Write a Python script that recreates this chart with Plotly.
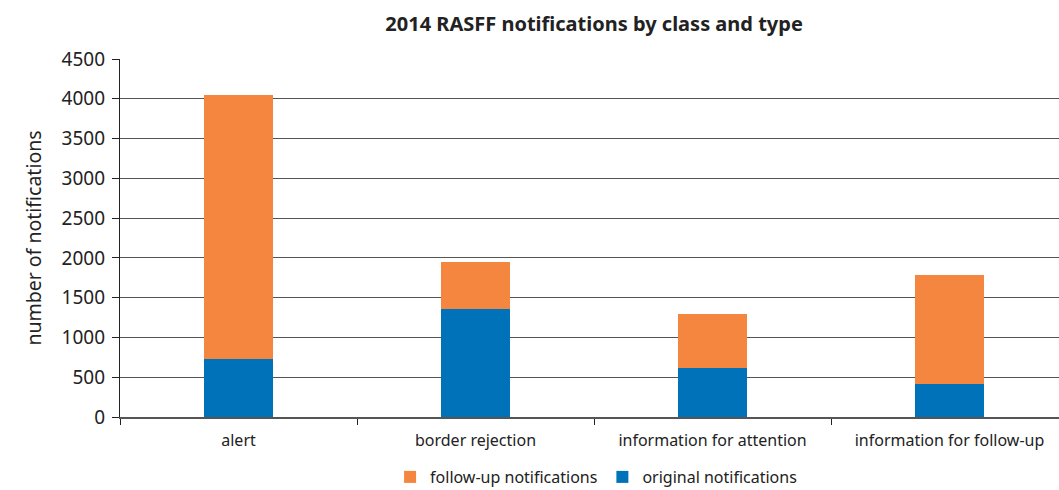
import plotly.graph_objects as go

categories = ["alert", "border rejection", "information for attention", "information for follow-up"]
original = [733, 1355, 615, 410]
follow_up = [3317, 599, 683, 1381]

orange = "#F4863F"
blue = "#0072B9"
font_family = "Noto Sans, Open Sans, sans-serif"

fig = go.Figure()
fig.add_trace(go.Bar(x=categories, y=original, name="original notifications",
                     marker=dict(color=blue, line=dict(width=0)), width=0.29))
fig.add_trace(go.Bar(x=categories, y=follow_up, name="follow-up notifications",
                     marker=dict(color=orange, line=dict(width=0)), width=0.29))

fig.update_layout(
    barmode="stack",
    width=1059, height=490,
    margin=dict(l=120, r=0, t=59, b=73, autoexpand=False),
    paper_bgcolor="white", plot_bgcolor="white",
    font=dict(family=font_family, size=16, color="#222222"),
    title=dict(text="<b>2014 RASFF notifications by class and type</b>", x=0.561, xanchor="center",
               y=0.951, yanchor="middle", font=dict(size=20, color="#222222")),
    legend=dict(orientation="h", traceorder="reversed", x=0.507, xanchor="center",
                y=-60 / 358, yanchor="middle", font=dict(size=16)),
    showlegend=True,
)
fig.update_yaxes(range=[0, 4500], dtick=500, showgrid=True, gridcolor="#555555", gridwidth=1.2,
                 showline=True, linecolor="#222222", linewidth=1.2, ticks="outside",
                 ticklen=7, tickcolor="#222222", zeroline=False, tickfont=dict(size=19),
                 ticklabelstandoff=3,
                 title=dict(text="number of notifications", font=dict(size=19.5), standoff=14))
fig.update_xaxes(range=[-0.5, 3.462], showline=True, linecolor="#555555", linewidth=1.5,
                 ticks="outside", tickson="boundaries", ticklen=6, tickcolor="#222222",
                 ticklabelstandoff=8, showgrid=False)

fig.write_html("out.html", config={"displayModeBar": False},
               post_script="document.body.style.margin='0';")
